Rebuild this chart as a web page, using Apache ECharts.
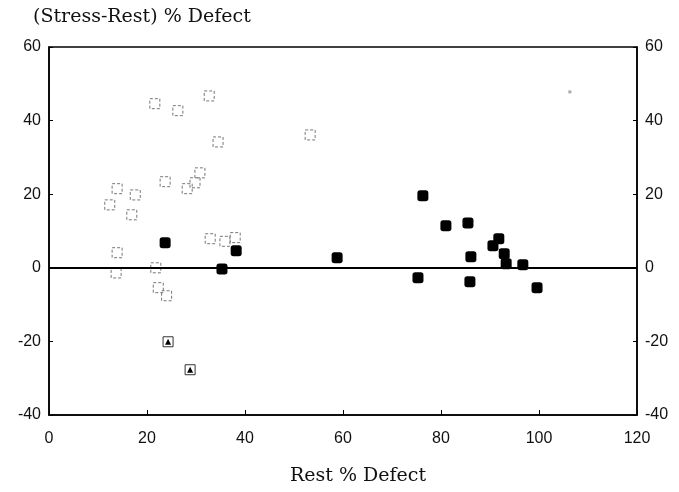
<!DOCTYPE html>
<html>
<head>
<meta charset="utf-8">
<title>Stress-Rest % Defect</title>
<script src="https://cdn.jsdelivr.net/npm/echarts@6/dist/echarts.min.js"></script>
<style>
  html, body { margin: 0; padding: 0; background: #fff; }
  #chart { width: 679px; height: 492px; }
</style>
</head>
<body>
<div id="chart"></div>
<script>
// open squares: [rest % defect, (stress - rest) % defect]
const openSquares = [
  [21.6, 44.6], [26.3, 42.7], [32.7, 46.7], [34.5, 34.2], [53.3, 36.1],
  [30.8, 25.8], [29.8, 23.1], [28.2, 21.5], [23.7, 23.4], [13.9, 21.5],
  [17.6, 19.8], [12.4, 17.1], [16.9, 14.4], [13.9, 4.1], [13.7, -1.4],
  [21.8, 0.0], [32.9, 7.9], [35.9, 7.2], [38.0, 8.2], [22.3, -5.4],
  [24.0, -7.6]
]

// filled squares
const filledSquares = [
  [23.7, 6.8], [38.2, 4.6], [35.3, -0.3], [58.8, 2.7], [76.3, 19.6],
  [81.0, 11.4], [85.5, 12.2], [91.8, 7.9], [90.6, 6.0], [92.9, 3.8],
  [86.1, 3.0], [93.3, 1.1], [96.7, 0.8], [75.3, -2.7], [85.9, -3.8],
  [99.6, -5.4]
]

// squares marked with a triangle
const triangleSquares = [[24.3, -20.1], [28.8, -27.7]]

// stray speck top right
const speck = [[106.3, 47.8]]

const xTicks = [0, 120, 20]
const yTicks = [-40, 60, 20]

const chart = echarts.init(document.getElementById('chart'))

const tickLabel = {
  color: '#111',
  fontFamily: 'Liberation Sans, Arial, sans-serif',
  fontSize: 16
}
const titleFont = '19px "DejaVu Serif", "Liberation Serif", serif'

const yAxisBase = {
  type: 'value',
  min: yTicks[0],
  max: yTicks[1],
  interval: yTicks[2],
  axisLine: { show: true, lineStyle: { color: '#000', width: 1.5 } },
  axisTick: { show: true, inside: true, length: 4, lineStyle: { color: '#000' } },
  splitLine: { show: false }
}

const option = {
  animation: false,
  backgroundColor: '#fff',
  grid: {
    left: 49,
    right: 42,
    top: 47,
    bottom: 77,
    show: true,
    borderColor: '#000',
    borderWidth: 1.5
  },
  graphic: [
    {
      type: 'text',
      left: 33,
      top: 8,
      style: { text: '(Stress-Rest) % Defect', font: titleFont, fill: '#111' }
    },
    {
      type: 'text',
      left: 290,
      top: 467,
      style: { text: 'Rest % Defect', font: titleFont, fill: '#111' }
    }
  ],
  xAxis: {
    type: 'value',
    min: xTicks[0],
    max: xTicks[1],
    interval: xTicks[2],
    axisLine: { show: true, onZero: false, lineStyle: { color: '#000', width: 1.5 } },
    axisTick: { show: true, inside: true, length: 5, lineStyle: { color: '#000' } },
    axisLabel: { ...tickLabel, margin: 16 },
    splitLine: { show: false }
  },
  yAxis: [
    {
      ...yAxisBase,
      position: 'left',
      axisLabel: { ...tickLabel, margin: 8 }
    },
    {
      ...yAxisBase,
      position: 'right',
      axisLabel: { ...tickLabel, margin: 8 }
    }
  ],
  series: [
    {
      type: 'scatter',
      data: openSquares,
      symbol: 'rect',
      symbolSize: 10,
      silent: true,
      itemStyle: {
        opacity: 1,
        color: 'transparent',
        borderColor: '#777',
        borderWidth: 1,
        borderType: [3, 2]
      }
    },
    {
      type: 'scatter',
      data: filledSquares,
      symbol: 'roundRect',
      symbolSize: 11,
      silent: true,
      itemStyle: { color: '#000', opacity: 1 },
      markLine: {
        silent: true,
        symbol: 'none',
        label: { show: false },
        lineStyle: { color: '#000', width: 2, type: 'solid' },
        data: [{ yAxis: 0 }]
      }
    },
    {
      type: 'scatter',
      data: triangleSquares,
      symbol: 'rect',
      symbolSize: 10,
      silent: true,
      itemStyle: { opacity: 1, color: 'transparent', borderColor: '#333', borderWidth: 1 }
    },
    {
      type: 'scatter',
      data: triangleSquares,
      symbol: 'triangle',
      symbolSize: 6,
      silent: true,
      itemStyle: { color: '#000', opacity: 1 }
    },
    {
      type: 'scatter',
      data: speck,
      symbol: 'rect',
      symbolSize: 3,
      silent: true,
      itemStyle: { color: '#aaa', opacity: 1 }
    }
  ]
}

chart.setOption(option)
</script>
</body>
</html>
